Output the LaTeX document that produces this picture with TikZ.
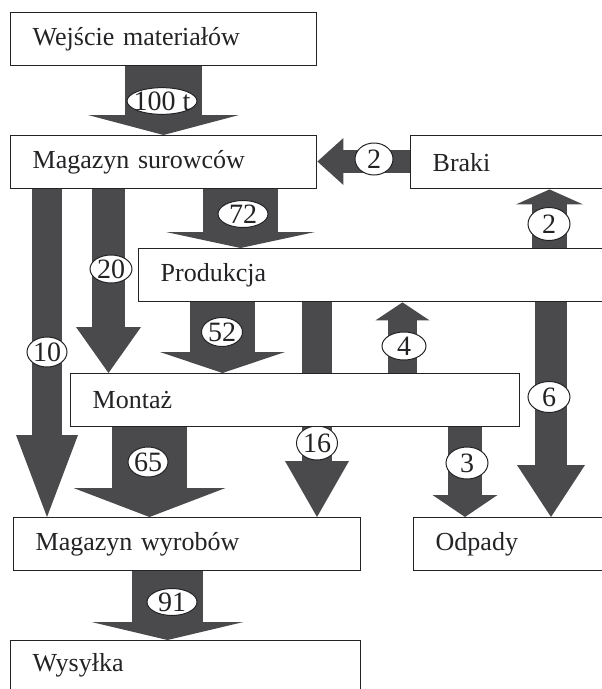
\documentclass[tikz,border=0pt]{standalone}
\usepackage{fontspec}
\setmainfont{Liberation Serif}
\usetikzlibrary{arrows.meta,shapes.geometric}
\definecolor{flowgray}{RGB}{74,74,76}
\definecolor{inkgray}{RGB}{35,35,38}
\pgfdeclarelayer{flows}
\pgfdeclarelayer{marks}
\pgfsetlayers{flows,marks,main}

\begin{document}
\begin{tikzpicture}[x=1pt,y=-1pt,
  box/.style={draw=inkgray,line width=1.4pt,fill=white,anchor=north west,
    minimum height=53pt,inner xsep=22pt,inner ysep=0pt,align=left,text=inkgray,
    font=\fontsize{26}{30}\selectfont},
  val/.style={draw=inkgray,line width=1pt,ellipse,fill=white,inner sep=0pt,
    text=inkgray,font=\fontsize{28}{30}\selectfont},
  flow/.style args={#1/#2/#3}{draw=flowgray,line width=#1,
    -{Triangle[width=#2,length=#3,line width=0pt]}}]

  \useasboundingbox (0,0) rectangle (602,689);
  \clip (0,0) rectangle (602,689);

  \draw (10,12) node[box,text width=262pt] (wej) {Wejście materiałów};
  \draw (10,135) node[box,text width=262pt] (msur) {Magazyn surowców};
  \draw (410,135) node[box,text width=166pt] (braki) {Braki};
  \draw (138,248) node[box,text width=438pt] (prod) {Produkcja};
  \draw (70,373) node[box,text width=405pt] (mont) {Montaż};
  \draw (13,517) node[box,text width=303pt] (mwyr) {Magazyn wyrobów};
  \draw (413,517) node[box,text width=163pt] (odp) {Odpady};
  \draw (10,640) node[box,text width=306pt,minimum height=49pt] (wys) {Wysyłka};

  \begin{pgfonlayer}{flows}
  \draw[flow=77pt/151pt/20pt] (163.5,0 |- wej.south) -- (163.5,0 |- msur.north);
  \draw[flow=23pt/47pt/26pt] (braki.west |- 0,161.5) -- (msur.east |- 0,161.5);
  \draw[flow=30pt/62pt/82pt] (47,0 |- msur.south) -- (47,0 |- mwyr.north);
  \draw[flow=33pt/65pt/46pt] (108.5,0 |- msur.south) -- (108.5,0 |- mont.north);
  \draw[flow=75pt/149pt/16pt] (240.5,0 |- msur.south) -- (240.5,0 |- prod.north);
  \draw[flow=65pt/125pt/21pt] (222.5,0 |- prod.south) -- (222.5,0 |- mont.north);
  \draw[flow=30pt/64pt/56pt] (317,0 |- prod.south) -- (317,0 |- mwyr.north);
  \draw[flow=29pt/54pt/18pt] (402.5,0 |- mont.north) -- (402.5,0 |- prod.south);
  \draw[flow=35pt/67pt/15pt] (549.5,0 |- prod.north) -- (549.5,0 |- braki.south);
  \draw[flow=32pt/68pt/52pt] (551,0 |- prod.south) -- (551,0 |- odp.north);
  \draw[flow=34pt/65pt/22pt] (465,0 |- mont.south) -- (465,0 |- odp.north);
  \draw[flow=75pt/152pt/29pt] (149.5,0 |- mont.south) -- (149.5,0 |- mwyr.north);
  \draw[flow=71pt/152pt/18pt] (167.5,0 |- mwyr.south) -- (167.5,0 |- wys.north);
  \end{pgfonlayer}

  \begin{pgfonlayer}{marks}
  \draw (162,101) node[val,inner xsep=-4pt,minimum width=70pt,minimum height=22pt] (v100) {100 t};
  \draw (374,159) node[val,minimum width=38pt,minimum height=32pt] (vbr) {2};
  \draw (549,224) node[val,minimum width=42pt,minimum height=33pt] (vup) {2};
  \draw (243,214) node[val,minimum width=50pt,minimum height=27pt] (v72) {72};
  \draw (111,269) node[val,minimum width=42pt,minimum height=28pt] (v20) {20};
  \draw (222,332) node[val,minimum width=41pt,minimum height=29pt] (v52) {52};
  \draw (47,352) node[val,minimum width=40pt,minimum height=30pt] (v10) {10};
  \draw (404,346) node[val,minimum width=44pt,minimum height=28pt] (v4) {4};
  \draw (549,397) node[val,minimum width=42pt,minimum height=31pt] (v6) {6};
  \draw (317,443) node[val,minimum width=41pt,minimum height=34pt] (v16) {16};
  \draw (467,463) node[val,minimum width=42pt,minimum height=32pt] (v3) {3};
  \draw (148,462) node[val,minimum width=40pt,minimum height=30pt] (v65) {65};
  \draw (172,602) node[val,minimum width=50pt,minimum height=27pt] (v91) {91};
  \end{pgfonlayer}

\end{tikzpicture}
\end{document}
